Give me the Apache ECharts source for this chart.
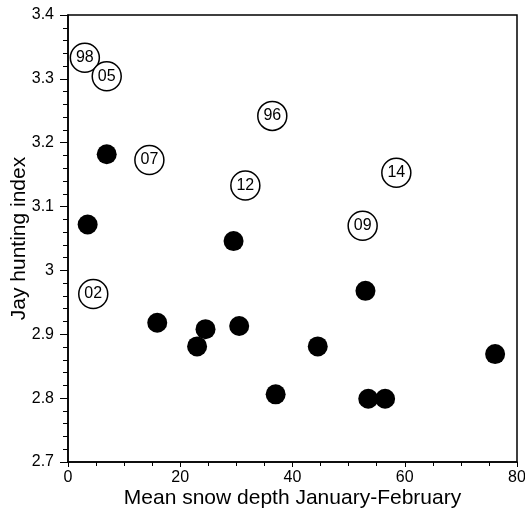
<!DOCTYPE html>
<html>
<head>
<meta charset="utf-8">
<script src="https://cdn.jsdelivr.net/npm/echarts@6/dist/echarts.min.js"></script>
<style>
  html, body { margin: 0; padding: 0; background: #fff; }
  #chart { width: 525px; height: 514px; }
</style>
</head>
<body>
<div id="chart"></div>
<script>
// filled dots (years without label)
var dotX = [6.9, 3.5, 29.5, 15.9, 24.5, 23.0, 30.5, 53.0, 44.5, 76.1, 37.0, 53.5, 56.5];
var dotY = [3.182, 3.072, 3.046, 2.918, 2.908, 2.881, 2.913, 2.968, 2.881, 2.869, 2.806, 2.799, 2.799];

// open circles with year labels
var yearLabels = ['98', '05', '07', '12', '02', '96', '14', '09'];
var yearX = [3.0, 6.9, 14.5, 31.6, 4.5, 36.4, 58.5, 52.5];
var yearY = [3.333, 3.304, 3.173, 3.133, 2.963, 3.242, 3.153, 3.070];

var xTicks = [0, 20, 40, 60, 80];
var yTicks = [2.7, 2.8, 2.9, 3, 3.1, 3.2, 3.3, 3.4];

var fontFam = 'Liberation Sans, Arial, sans-serif';

var dots = dotX.map(function (x, i) {
  return [x, dotY[i]];
});
var years = yearX.map(function (x, i) {
  return { value: [x, yearY[i]], name: yearLabels[i] };
});

var myChart = echarts.init(document.getElementById('chart'));

var option = {
  animation: false,
  backgroundColor: '#fff',
  grid: {
    left: 68,
    right: 8,
    top: 15,
    bottom: 52,
    outerBoundsMode: 'none',
    containLabel: false,
    show: true,
    borderColor: '#000',
    borderWidth: 1.5,
    backgroundColor: 'transparent'
  },
  xAxis: {
    type: 'value',
    min: xTicks[0],
    max: xTicks[xTicks.length - 1],
    interval: 20,
    name: 'Mean snow depth January-February',
    nameLocation: 'middle',
    nameGap: 26,
    nameMoveOverlap: false,
    nameTextStyle: { color: '#000', fontSize: 21, fontFamily: fontFam },
    axisLine: { onZero: false, lineStyle: { color: '#000', width: 1.5 } },
    axisTick: { show: true, length: 5, lineStyle: { color: '#000', width: 1 } },
    minorTick: { show: true, splitNumber: 4, length: 4, lineStyle: { color: '#000', width: 1 } },
    axisLabel: { color: '#000', fontSize: 16, fontFamily: fontFam, margin: 8 },
    splitLine: { show: false }
  },
  yAxis: {
    type: 'value',
    min: yTicks[0],
    max: yTicks[yTicks.length - 1],
    interval: 0.1,
    name: 'Jay hunting index',
    nameLocation: 'middle',
    nameGap: 38,
    nameMoveOverlap: false,
    nameTextStyle: { color: '#000', fontSize: 21, fontFamily: fontFam },
    axisLine: { lineStyle: { color: '#000', width: 1.5 } },
    axisTick: { show: true, length: 8, lineStyle: { color: '#000', width: 1 } },
    minorTick: { show: true, splitNumber: 5, length: 5, lineStyle: { color: '#000', width: 1 } },
    axisLabel: { color: '#000', fontSize: 16, fontFamily: fontFam, margin: 14 },
    splitLine: { show: false }
  },
  series: [
    {
      name: 'dots',
      type: 'scatter',
      data: dots,
      symbol: 'circle',
      symbolSize: 20,
      itemStyle: { color: '#000', opacity: 1 }
    },
    {
      name: 'years',
      type: 'scatter',
      data: years,
      symbol: 'circle',
      symbolSize: 29,
      itemStyle: { color: '#fff', borderColor: '#000', borderWidth: 1.5, opacity: 1 },
      label: {
        show: true,
        position: 'inside',
        formatter: function (p) { return p.name; },
        color: '#000',
        fontSize: 16,
        fontFamily: fontFam
      }
    }
  ]
};
myChart.setOption(option);
</script>
</body>
</html>
